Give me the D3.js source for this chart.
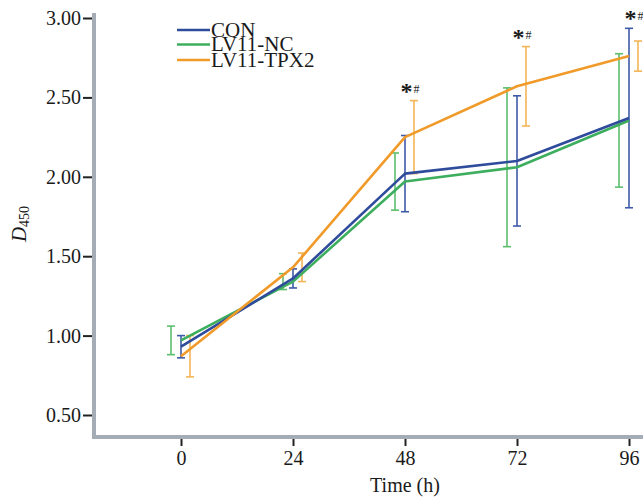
<!DOCTYPE html>
<html>
<head>
<meta charset="utf-8">
<script src="https://cdn.jsdelivr.net/npm/d3@7"></script>
<style>
  body { margin: 0; background: #fff; }
  svg { display: block; }
  text { font-family: "Liberation Serif", "Times New Roman", serif; fill: #1a1a1a; }
</style>
</head>
<body>
<svg></svg>
<script>
// data
const hours = [0, 24, 48, 72, 96];
const groups = ["CON", "LV11-NC", "LV11-TPX2"];
const conMean = [0.93, 1.36, 2.02, 2.10, 2.37];
const conErr = [0.07, 0.06, 0.24, 0.41, 0.565];
const ncMean = [0.97, 1.34, 1.97, 2.06, 2.355];
const ncErr = [0.09, 0.05, 0.18, 0.50, 0.42];
const tpxMean = [0.87, 1.43, 2.25, 2.57, 2.76];
const tpxErr = [0.13, 0.09, 0.23, 0.25, 0.095];
const yTicks = [0.5, 1.0, 1.5, 2.0, 2.5, 3.0];
const sigHours = [48, 72, 96];

const width = 643;
const height = 499;

const svg = d3.select("svg")
  .attr("width", width)
  .attr("height", height);

const x = d3.scaleLinear().domain([0, 96]).range([181, 629]);
const y = d3.scaleLinear().domain([0.5, 3.0]).range([415, 18]);

const axisX = 94;    // left axis line position
const axisY = 437;   // bottom axis line position

const series = [
  { name: groups[1], mean: ncMean, err: ncErr, color: "#3dae5e", barColor: "#5cbf6e", dodge: -10 },
  { name: groups[0], mean: conMean, err: conErr, color: "#2f4b9c", barColor: "#3f5aa8", dodge: 0 },
  { name: groups[2], mean: tpxMean, err: tpxErr, color: "#f09a2a", barColor: "#f4b556", dodge: 9 }
];

// frame lines
svg.append("line")
  .attr("x1", axisX).attr("x2", axisX)
  .attr("y1", 13).attr("y2", axisY + 2)
  .attr("stroke", "#a4adb5").attr("stroke-width", 4);
svg.append("line")
  .attr("x1", axisX - 2).attr("x2", width)
  .attr("y1", axisY).attr("y2", axisY)
  .attr("stroke", "#a4adb5").attr("stroke-width", 4);

// y axis
const yAxis = svg.append("g")
  .attr("transform", `translate(${axisX - 2},0)`)
  .call(d3.axisLeft(y).tickValues(yTicks).tickFormat(d3.format(".2f")).tickSize(9).tickPadding(2));
yAxis.select(".domain").remove();
yAxis.selectAll(".tick line").attr("stroke", "#222").attr("stroke-width", 2);
yAxis.selectAll(".tick text")
  .attr("font-size", 20)
  .attr("font-family", "Liberation Serif, serif")
  .attr("fill", "#1a1a1a");

// x axis
const xAxis = svg.append("g")
  .attr("transform", `translate(0,${axisY + 2})`)
  .call(d3.axisBottom(x).tickValues(hours).tickSize(7).tickPadding(5));
xAxis.select(".domain").remove();
xAxis.selectAll(".tick line").attr("stroke", "#222").attr("stroke-width", 2);
xAxis.selectAll(".tick text")
  .attr("font-size", 20)
  .attr("font-family", "Liberation Serif, serif")
  .attr("fill", "#1a1a1a");

// axis titles
svg.append("text")
  .attr("x", 405).attr("y", 492)
  .attr("text-anchor", "middle")
  .attr("font-size", 20)
  .text("Time (h)");

const yTitle = svg.append("text")
  .attr("transform", "translate(26,224) rotate(-90)")
  .attr("text-anchor", "middle")
  .attr("font-size", 21);
yTitle.append("tspan").attr("font-style", "italic").text("D");
yTitle.append("tspan").attr("font-size", 14).attr("dy", 3).text("450");

// error bars
const cap = 4;
series.forEach(s => {
  const g = svg.append("g").attr("stroke", s.barColor).attr("stroke-width", 1.6).attr("fill", "none");
  hours.forEach((h, i) => {
    const cx = x(h) + s.dodge;
    const top = y(s.mean[i] + s.err[i]);
    const bot = y(s.mean[i] - s.err[i]);
    g.append("line").attr("x1", cx).attr("x2", cx).attr("y1", top).attr("y2", bot);
    g.append("line").attr("x1", cx - cap).attr("x2", cx + cap).attr("y1", top).attr("y2", top);
    g.append("line").attr("x1", cx - cap).attr("x2", cx + cap).attr("y1", bot).attr("y2", bot);
  });
});

// mean lines
const line = d3.line()
  .x((d, i) => x(hours[i]))
  .y(d => y(d));

series.forEach(s => {
  svg.append("path")
    .datum(s.mean)
    .attr("fill", "none")
    .attr("stroke", s.color)
    .attr("stroke-width", 2.6)
    .attr("stroke-linejoin", "round")
    .attr("d", line);
});

// significance marks above the highest bar
sigHours.forEach(h => {
  const i = hours.indexOf(h);
  const topVal = d3.max(series, s => s.mean[i] + s.err[i]);
  const g = svg.append("text")
    .attr("x", x(h) + 5)
    .attr("y", y(topVal) - 2)
    .attr("text-anchor", "middle");
  g.append("tspan").attr("font-size", 24).attr("font-weight", "bold").text("*");
  g.append("tspan").attr("font-size", 12).attr("dy", -6).attr("dx", 1).text("#");
});

// legend
const legend = svg.append("g");
const legendOrder = [series[1], series[0], series[2]];
const legendY = [30, 44.5, 60];
legendOrder.forEach((s, i) => {
  legend.append("line")
    .attr("x1", 177).attr("x2", 210)
    .attr("y1", legendY[i]).attr("y2", legendY[i])
    .attr("stroke", s.color).attr("stroke-width", 2.6);
  legend.append("text")
    .attr("x", 211).attr("y", legendY[i] + 6.5)
    .attr("font-size", 21)
    .text(s.name);
});
</script>
</body>
</html>
